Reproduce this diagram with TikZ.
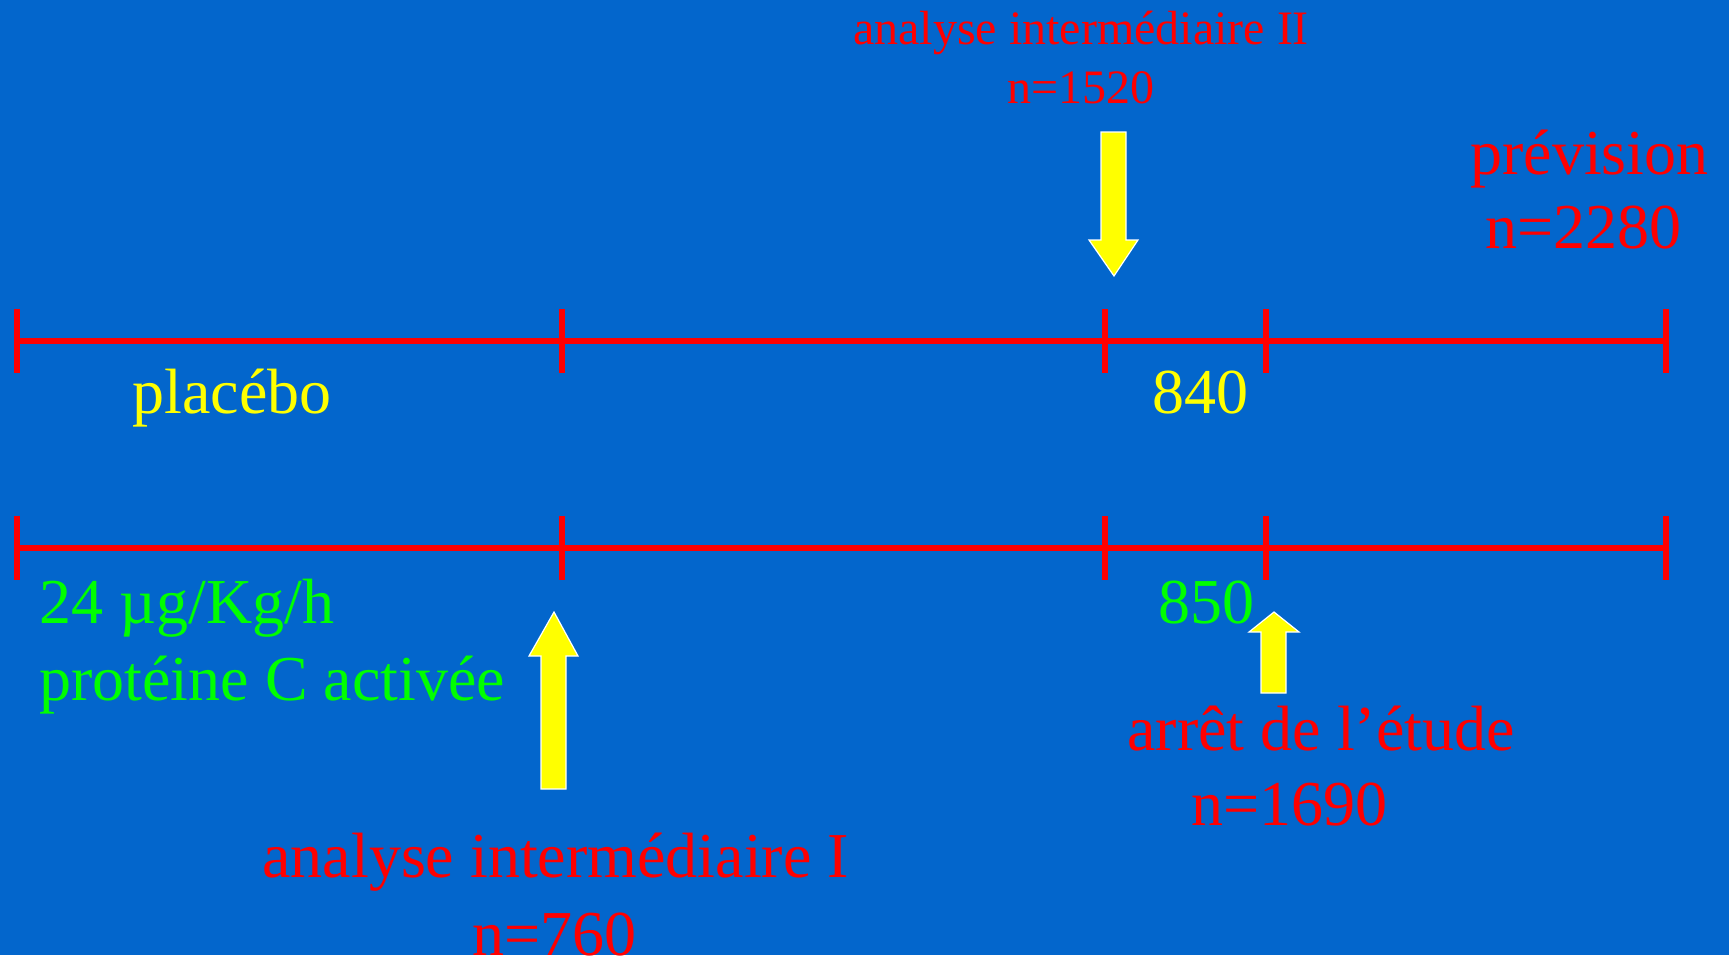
\documentclass[tikz,border=0pt]{standalone}
\usepackage{fontspec}
\setmainfont{Liberation Serif}
\definecolor{bg}{RGB}{3,102,204}
\definecolor{tred}{RGB}{255,0,0}
\definecolor{tyellow}{RGB}{255,255,0}
\definecolor{tgreen}{RGB}{0,255,0}
\begin{document}
\begin{tikzpicture}[x=0.5pt,y=-0.5pt,
  big/.style={font=\fontsize{32}{38}\selectfont, inner sep=0pt, anchor=base west},
  small/.style={font=\fontsize{24}{28}\selectfont, inner sep=0pt, anchor=base},
  tline/.style={tred, line width=2.8pt, line cap=butt},
  fatarrow/.style={fill=tyellow, draw=white, line width=0.6pt, line join=miter}]
\fill[bg] (0,0) rectangle (1729,955);
\useasboundingbox (0,0) rectangle (1729,955);

% timelines
\foreach \y/\r in {341/a,548/b}{
  \foreach \x/\i in {17/0,562/1,1105/2,1266/3,1666/4}{
    \coordinate (\r\i) at (\x,\y);
    \draw[tline] (\x,\y-32) -- (\x,\y+32);
  }
  \draw[tline] (\r0) -- (\r4);
}

% arrows
\draw[fatarrow] (1101,132) -- (1126,132) -- (1126,240) -- (1138,240) -- (1114,276)
  -- (1089,240) -- (1101,240) -- cycle;
\draw[fatarrow] (541,789) -- (566,789) -- (566,656) -- (578,656) -- (554,612)
  -- (529,656) -- (541,656) -- cycle;
\draw[fatarrow] (1261,693) -- (1286,693) -- (1286,632) -- (1299,632) -- (1274,612)
  -- (1249,632) -- (1261,632) -- cycle;

% texts
\node[small, text=tred] (ai2) at (1081,44) {analyse intermédiaire II};
\node[small, text=tred] (n1520) at (1081,103) {n=1520};
\node[big, text=tred] (prev) at (1470,174) {prévision};
\node[big, text=tred] (n2280) at (1485,248) {n=2280};
\node[big, text=tyellow] (plac) at (132,413) {placébo};
\node[big, text=tyellow] (n840) at (1152,413) {840};
\node[big, text=tgreen] (dose) at (39,623) {24 µg/Kg/h};
\node[big, text=tgreen] (prot) at (39,700) {protéine C activée};
\node[big, text=tgreen] (n850) at (1158,623) {850};
\node[big, text=tred] (arret) at (1127,750) {arrêt de l’étude};
\node[big, text=tred] (n1690) at (1191,825) {n=1690};
\node[big, text=tred] (ai1) at (262,877) {analyse intermédiaire I};
\node[big, text=tred] (n760) at (472,955) {n=760};
\end{tikzpicture}
\end{document}
